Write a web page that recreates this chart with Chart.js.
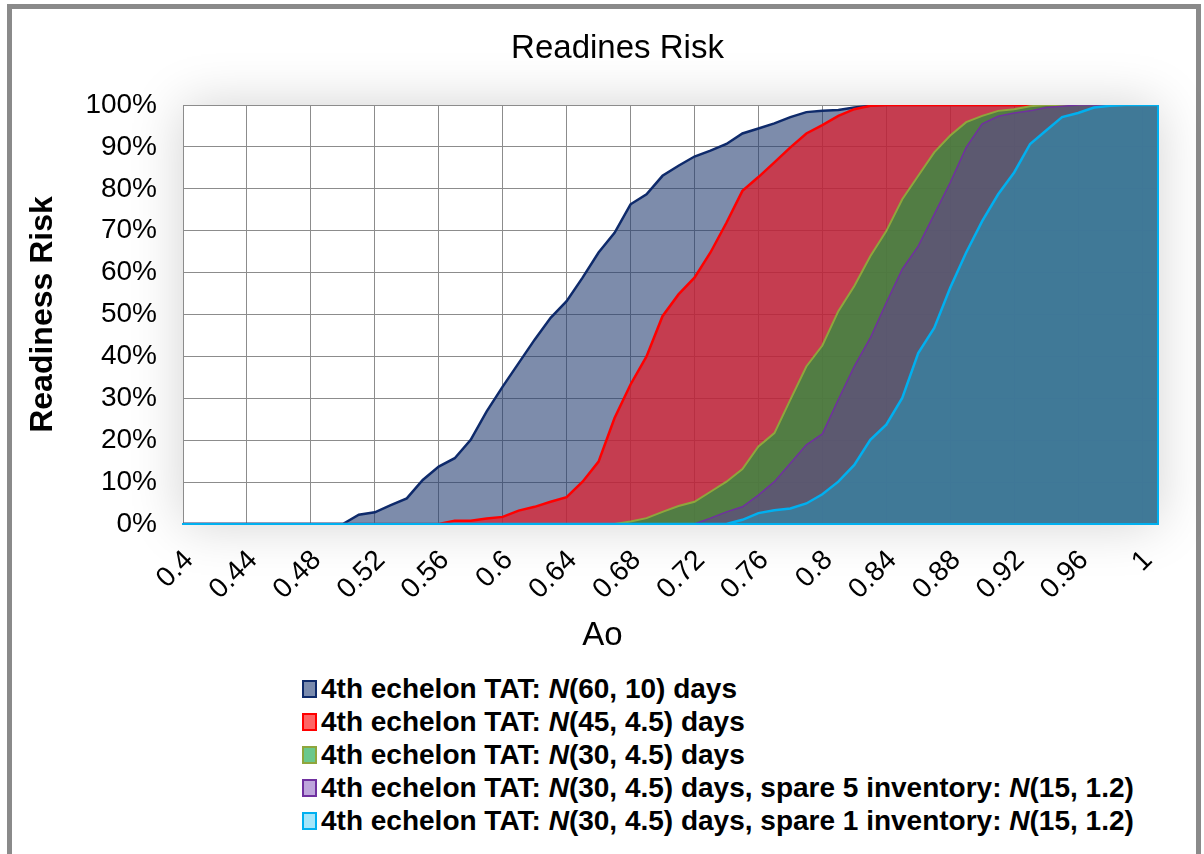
<!DOCTYPE html>
<html>
<head>
<meta charset="utf-8">
<title>Readines Risk</title>
<script src="https://cdn.jsdelivr.net/npm/chart.js@4.4.1/dist/chart.umd.min.js"></script>
<style>
  html, body { margin: 0; padding: 0; background: #fff; }
  body { width: 1204px; height: 854px; position: relative; overflow: hidden;
         font-family: "Liberation Sans", Arial, sans-serif; }
  #frame { position: absolute; left: 7px; top: 4px; right: 3px; bottom: -20px;
           border: 5px solid #8a8a8a; box-sizing: border-box; }
  #chart { position: absolute; left: 0; top: 0; }
  #legend { position: absolute; left: 302px; top: 672px; font-weight: bold;
            font-size: 28px; line-height: 33px; color: #000; }
  #legend .item { white-space: nowrap; display: flex; align-items: center; }
  #legend .box { display: inline-block; width: 15px; height: 18px; border: 2px solid;
                 box-sizing: border-box; margin-right: 4px; }
</style>
</head>
<body>
<div id="frame"></div>
<canvas id="chart" width="1204" height="665"></canvas>
<div id="legend"></div>
<script>
// Ao values (x axis, one point per 0.01)
const ao = [0.40, 0.41, 0.42, 0.43, 0.44, 0.45, 0.46, 0.47, 0.48, 0.49,
            0.50, 0.51, 0.52, 0.53, 0.54, 0.55, 0.56, 0.57, 0.58, 0.59,
            0.60, 0.61, 0.62, 0.63, 0.64, 0.65, 0.66, 0.67, 0.68, 0.69,
            0.70, 0.71, 0.72, 0.73, 0.74, 0.75, 0.76, 0.77, 0.78, 0.79,
            0.80, 0.81, 0.82, 0.83, 0.84, 0.85, 0.86, 0.87, 0.88, 0.89,
            0.90, 0.91, 0.92, 0.93, 0.94, 0.95, 0.96, 0.97, 0.98, 0.99,
            1.00, 1.01];

// readiness risk in %
const tatN60 = [0, 0, 0, 0, 0, 0, 0, 0, 0, 0,
                0, 2.2, 2.8, 4.5, 6.1, 10.5, 13.7, 15.7, 20.1, 26.9,
                32.8, 38.4, 44, 49.2, 53.2, 58.8, 64.8, 69.5, 76.3, 78.7,
                83.1, 85.5, 87.7, 89.1, 90.7, 93.2, 94.4, 95.6, 97.1, 98.3,
                98.6, 98.8, 99.4, 99.8, 100, 100, 100, 100, 100, 100,
                100, 100, 100, 100, 100, 100, 100, 100, 100, 100,
                100, 100];
const tatN45 = [0, 0, 0, 0, 0, 0, 0, 0, 0, 0,
                0, 0, 0, 0, 0, 0, 0, 0.8, 0.8, 1.3,
                1.7, 3.2, 4.1, 5.3, 6.4, 10.1, 14.9, 25.3, 33.3, 40,
                49.6, 54.8, 58.8, 64.8, 71.9, 79.5, 82.8, 86.3, 89.9, 93.2,
                95.2, 97.4, 99, 99.8, 100, 100, 100, 100, 100, 100,
                100, 100, 100, 100, 100, 100, 100, 100, 100, 100,
                100, 100];
const tatN30 = [0, 0, 0, 0, 0, 0, 0, 0, 0, 0,
                0, 0, 0, 0, 0, 0, 0, 0, 0, 0,
                0, 0, 0, 0, 0, 0, 0, 0, 0.6, 1.4,
                2.9, 4.3, 5.3, 7.7, 10.1, 13.1, 18.5, 21.7, 29.7, 37.6,
                42.6, 50.8, 56.8, 63.9, 69.9, 77.5, 83.1, 88.7, 92.7, 95.9,
                97.4, 98.6, 99, 99.7, 100, 100, 100, 100, 100, 100,
                100, 100];
const spare5 = [0, 0, 0, 0, 0, 0, 0, 0, 0, 0,
                0, 0, 0, 0, 0, 0, 0, 0, 0, 0,
                0, 0, 0, 0, 0, 0, 0, 0, 0, 0,
                0, 0, 0, 1.4, 2.9, 4.1, 6.9, 10.1, 14.5, 18.9,
                21.5, 29.7, 37.6, 44.4, 52.8, 60.8, 66.3, 73.9, 81.5, 89.9,
                95.5, 97.3, 98.1, 98.6, 99.4, 99.7, 100, 100, 100, 100,
                100, 100];
const spare1 = [0, 0, 0, 0, 0, 0, 0, 0, 0, 0,
                0, 0, 0, 0, 0, 0, 0, 0, 0, 0,
                0, 0, 0, 0, 0, 0, 0, 0, 0, 0,
                0, 0, 0, 0, 0, 1, 2.6, 3.3, 3.7, 4.9,
                7.1, 10.1, 14.1, 20.1, 23.7, 30.1, 40.8, 46.8, 56.4, 64.8,
                72.3, 78.7, 83.9, 90.7, 93.9, 97.1, 98.1, 99.4, 99.8, 100,
                100, 100];

const seriesLabels = [
  '4th echelon TAT: N(60, 10) days',
  '4th echelon TAT: N(45, 4.5) days',
  '4th echelon TAT: N(30, 4.5) days',
  '4th echelon TAT: N(30, 4.5) days, spare 5 inventory: N(15, 1.2)',
  '4th echelon TAT: N(30, 4.5) days, spare 1 inventory: N(15, 1.2)'
];
const chartTitle = 'Readines Risk';
const xTitle = 'Ao';
const yTitle = 'Readiness Risk';

function pts(vals) {
  return vals.map((v, i) => ({ x: ao[i], y: v }));
}

const FONT = '"Liberation Sans", Arial, sans-serif';
Chart.defaults.font.family = FONT;
Chart.defaults.color = '#000';

// soft shadow round the plot, cyan edge like the Excel area border,
// and the main / x titles which sit off-centre in the original
const plotFrame = {
  id: 'plotFrame',
  beforeDraw(chart) {
    const { ctx, chartArea: a } = chart;
    ctx.save();
    ctx.shadowColor = 'rgba(0,0,0,0.18)';
    ctx.shadowBlur = 50;
    ctx.fillStyle = '#fff';
    ctx.fillRect(a.left, a.top, a.width, a.height);
    ctx.restore();
  },
  afterDatasetsDraw(chart) {
    const { ctx, chartArea: a } = chart;
    ctx.save();
    ctx.strokeStyle = '#00B0F0';
    ctx.lineWidth = 2;
    ctx.beginPath();
    ctx.moveTo(a.left, a.bottom);
    ctx.lineTo(a.right, a.bottom);
    ctx.lineTo(a.right, a.top);
    ctx.stroke();
    ctx.restore();
  },
  afterDraw(chart) {
    const { ctx, chartArea: a } = chart;
    const cx = (a.left + a.right) / 2;
    ctx.save();
    ctx.fillStyle = '#000';
    ctx.textAlign = 'center';
    ctx.textBaseline = 'middle';
    ctx.font = '33px ' + FONT;
    ctx.fillText(chartTitle, cx - 53, a.top - 56);
    ctx.fillText(xTitle, cx - 68, a.bottom + 112);
    ctx.restore();
  }
};

const chart = new Chart(document.getElementById('chart'), {
  type: 'line',
  data: {
    datasets: [
      { label: seriesLabels[0], data: pts(tatN60), order: 4,
        borderColor: '#0E2A6B', backgroundColor: 'rgba(31,56,110,0.58)', borderWidth: 2.5,
        swatch: '#7A8BAE' },
      { label: seriesLabels[1], data: pts(tatN45), order: 3,
        borderColor: '#FF0000', backgroundColor: 'rgba(225,30,45,0.72)', borderWidth: 2.5,
        swatch: '#FF6464' },
      { label: seriesLabels[2], data: pts(tatN30), order: 2,
        borderColor: '#8FA63C', backgroundColor: 'rgba(40,150,65,0.73)', borderWidth: 2,
        swatch: '#6AC88C' },
      { label: seriesLabels[3], data: pts(spare5), order: 1,
        borderColor: '#7030A0', backgroundColor: 'rgba(100,60,150,0.55)', borderWidth: 1.5,
        swatch: '#BEA5DC' },
      { label: seriesLabels[4], data: pts(spare1), order: 0,
        borderColor: '#00B0F0', backgroundColor: 'rgba(30,160,200,0.45)', borderWidth: 2.5,
        swatch: '#A5E6FA' }
    ]
  },
  options: {
    responsive: false,
    animation: false,
    layout: { padding: { left: 12, right: 46, top: 105, bottom: 6 } },
    elements: {
      point: { radius: 0 },
      line: { tension: 0, fill: 'origin' }
    },
    plugins: {
      legend: { display: false },
      tooltip: { enabled: false },
      title: { display: false }
    },
    scales: {
      x: {
        type: 'linear',
        min: 0.4,
        max: 1.01,
        afterFit: s => { s.height = 135; },
        ticks: {
          stepSize: 0.04,
          includeBounds: false,
          autoSkip: false,
          minRotation: 45,
          maxRotation: 45,
          padding: 20,
          labelOffset: 6,
          font: { size: 28 },
          callback: v => String(+v.toFixed(2))
        },
        grid: { color: '#8c8c8c', drawTicks: false },
        border: { color: '#00B0F0', width: 2 }
      },
      y: {
        min: 0,
        max: 100,
        afterFit: s => { s.width = 171; },
        ticks: {
          stepSize: 5,
          padding: 26,
          font: { size: 28 },
          callback: v => (v % 10 === 0 ? v + '%' : '')
        },
        grid: {
          drawTicks: false,
          color: c => (c.tick && c.tick.value % 10 === 0 ? '#8c8c8c' : '#bdbdbd')
        },
        border: { color: '#8c8c8c' },
        title: {
          display: true,
          text: yTitle,
          font: { size: 32, weight: 'bold' },
          padding: { top: 12, bottom: 0 }
        }
      }
    }
  },
  plugins: [plotFrame]
});

// html legend so the N can be italic
const legendEl = document.getElementById('legend');
chart.data.datasets.forEach(ds => {
  const row = document.createElement('div');
  row.className = 'item';
  const box = document.createElement('span');
  box.className = 'box';
  box.style.background = ds.swatch;
  box.style.borderColor = ds.borderColor;
  const txt = document.createElement('span');
  txt.innerHTML = ds.label.replace(/N\(/g, '<i>N</i>(');
  row.appendChild(box);
  row.appendChild(txt);
  legendEl.appendChild(row);
});
</script>
</body>
</html>
